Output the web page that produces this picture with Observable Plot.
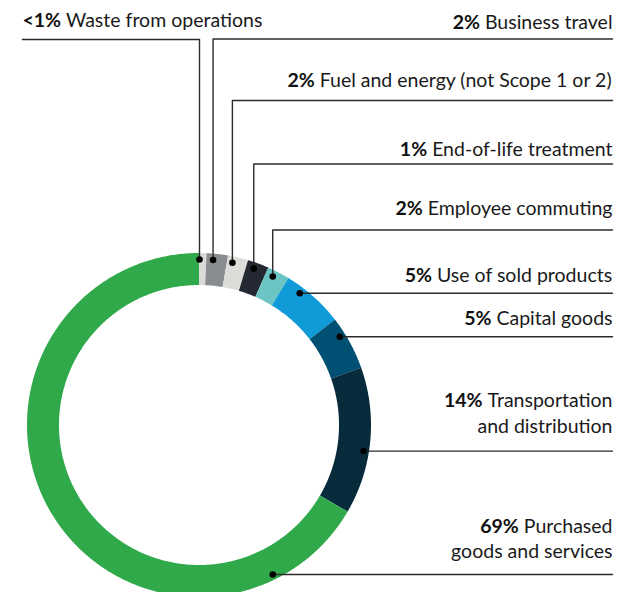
<!DOCTYPE html>
<html>
<head>
<meta charset="utf-8">
<script src="https://cdn.jsdelivr.net/npm/d3@7"></script>
<script src="https://cdn.jsdelivr.net/npm/@observablehq/plot@0.6"></script>
<style>
  html, body { margin: 0; padding: 0; background: #fff; }
  #chart svg { display: block; }
</style>
</head>
<body>
<div id="chart"></div>
<script>
// ---------- data ----------
const categories = [
  "Waste from operations",
  "Business travel",
  "Fuel and energy (not Scope 1 or 2)",
  "End-of-life treatment",
  "Employee commuting",
  "Use of sold products",
  "Capital goods",
  "Transportation and distribution",
  "Purchased goods and services"
];
// arc shares as drawn in the reference (percent of ring)
const shares = [0.7, 2.0, 1.9, 2.0, 2.1, 5.8, 5.1, 13.8, 66.6];
const percentLabels = ["<1%", "2%", "2%", "1%", "2%", "5%", "5%", "14%", "69%"];
const labelLines = [
  ["Waste from operations"],
  ["Business travel"],
  ["Fuel and energy (not Scope 1 or 2)"],
  ["End-of-life treatment"],
  ["Employee commuting"],
  ["Use of sold products"],
  ["Capital goods"],
  ["Transportation", "and distribution"],
  ["Purchased", "goods and services"]
];
const colors = ["#dadad6", "#8a8d8f", "#dcdcd8", "#242833", "#6cc4c5", "#109bd8", "#005073", "#082b3b", "#2fa94a"];

// ---------- layout ----------
const W = 632, H = 592;
const cx = 199, cy = 425, rOuter = 172, rInner = 140, rDot = 166;
const anchorFrac = [0, 0.3, 0.25, 0.35, 0.32, 0.28, 0.3, 0.57, 0.14];
const elbowY = [39, 38.5, 100, 163.5, 229.5, null, null, null, null];
const labelGap = [13, 10.5, 14, 8, 15, 11, 11.5, 18.3, 16];
const lineStep = 25.5;
const rightEdge = 612, leftEdge = 22;
const fontSize = 19.5;
const fontFamily = "Lato";

const toX = px => px - cx;
const toY = py => cy - py;

// arcs
const total = d3.sum(shares);
let acc = 0;
const arcRows = [];
const segs = shares.map((v, i) => {
  const a0 = acc / total * 360;
  acc += v;
  const a1 = acc / total * 360;
  return {cat: categories[i], a0, a1};
});
for (const s of segs) {
  const n = Math.max(2, Math.ceil((s.a1 - s.a0) / 0.5) + 1);
  for (let k = 0; k < n; k++) {
    const a = (s.a0 + (s.a1 - s.a0) * k / (n - 1)) * Math.PI / 180;
    arcRows.push({
      cat: s.cat,
      x1: rOuter * Math.sin(a), y1: rOuter * Math.cos(a),
      x2: rInner * Math.sin(a), y2: rInner * Math.cos(a)
    });
  }
}

// text measurement
const ctx = document.createElement("canvas").getContext("2d");
function measure(t, weight) {
  ctx.font = `${weight} ${fontSize}px ${fontFamily}`;
  return ctx.measureText(t).width;
}

const leaderRows = [], dotRows = [], boldRows = [], plainRows = [];
segs.forEach((s, i) => {
  const a = (s.a0 + (s.a1 - s.a0) * anchorFrac[i]) * Math.PI / 180;
  const dx = cx + rDot * Math.sin(a), dy = cy - rDot * Math.cos(a);
  dotRows.push({x: toX(dx), y: toY(dy)});
  const left = i === 0;
  let lineY;
  const pts = [[dx, dy]];
  if (elbowY[i] != null) {
    lineY = elbowY[i];
    pts.push([dx, lineY]);
    pts.push([left ? leftEdge : rightEdge, lineY]);
  } else {
    lineY = dy;
    pts.push([rightEdge, lineY]);
  }
  pts.forEach(p => leaderRows.push({cat: s.cat, x: toX(p[0]), y: toY(p[1])}));

  const lines = labelLines[i];
  const lastBase = lineY - labelGap[i];
  lines.forEach((ln, k) => {
    const base = lastBase - (lines.length - 1 - k) * lineStep;
    if (k === 0) {
      const wb = measure(percentLabels[i], 700);
      const ws = measure(" ", 400);
      const wl = measure(ln, 400);
      const start = left ? leftEdge : rightEdge - (wb + ws + wl);
      boldRows.push({x: toX(start), y: toY(base), text: percentLabels[i]});
      plainRows.push({x: toX(start + wb + ws), y: toY(base), text: ln});
    } else {
      const wl = measure(ln, 400);
      plainRows.push({x: toX(rightEdge - wl), y: toY(base), text: ln});
    }
  });
});

const chart = Plot.plot({
  width: W,
  height: H,
  margin: 0,
  x: {domain: [toX(0), toX(W)], range: [0, W], axis: null},
  y: {domain: [toY(H), toY(0)], range: [H, 0], axis: null},
  color: {domain: categories, range: colors},
  style: {fontFamily, background: "#fff"},
  marks: [
    Plot.area(arcRows, {x1: "x1", y1: "y1", x2: "x2", y2: "y2", z: "cat", fill: "cat", curve: "linear"}),
    Plot.line(leaderRows, {x: "x", y: "y", z: "cat", stroke: "#2b2b2b", strokeWidth: 1.4, curve: "linear"}),
    Plot.dot(dotRows, {x: "x", y: "y", r: 3.3, fill: "#000", stroke: null}),
    Plot.text(boldRows, {x: "x", y: "y", text: "text", textAnchor: "start", lineAnchor: "bottom", fontSize, fontWeight: 700, fill: "#111"}),
    Plot.text(plainRows, {x: "x", y: "y", text: "text", textAnchor: "start", lineAnchor: "bottom", fontSize, fontWeight: 400, fill: "#1a1a1a"})
  ]
});
document.getElementById("chart").appendChild(chart);
</script>
</body>
</html>
